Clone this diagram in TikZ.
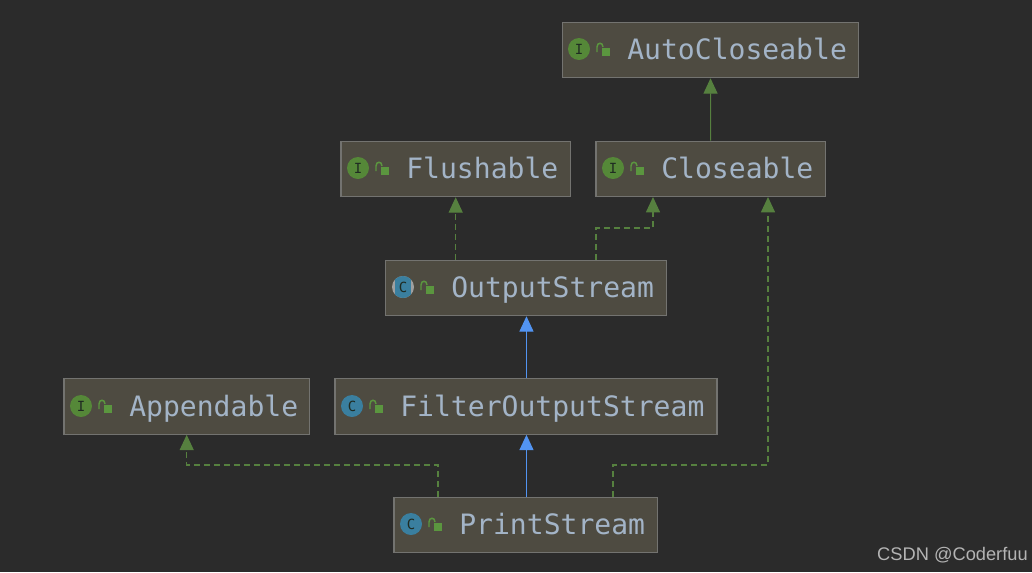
\documentclass[tikz,border=0pt]{standalone}
\usepackage{fontspec}
\setmonofont{DejaVu Sans Mono}
\newfontfamily\csdnfont{Liberation Sans}
\usetikzlibrary{arrows.meta}
\tikzset{
	classbox/.style={draw=boxline, fill=boxfill, line width=0.9pt, minimum height=41.5pt, inner sep=0pt},
	classname/.style={anchor=base west, inner sep=0pt, text=nametext, font=\ttfamily\fontsize{21.05pt}{21.05pt}\selectfont},
	icon/.style={circle, minimum size=16.5pt, inner sep=0pt, text=icontext, font=\ttfamily\fontsize{10.5pt}{10.5pt}\selectfont},
	ifaceicon/.style={icon, fill=ifacegreen},
	classicon/.style={icon, fill=classblue},
	abstracticon/.style={icon, fill=abstractgray, path picture={\fill[classblue] ([xshift=2.2pt]path picture bounding box.south west) rectangle ([xshift=-2.2pt]path picture bounding box.north east);}},
	lockicon/.pic={
		\fill[lockgreen] (-1.5,-1) rectangle (6.5,7);
		\draw[lockgreen, line width=1.1pt] (-6,3) -- (-6,-2) .. controls (-6,-7) and (0,-7) .. (0,-2);
	},
	implements/.style={draw=edgegreen, line width=0.8pt, dash pattern=on 4.5pt off 3pt, -{Triangle[length=11.5pt,width=10.5pt,fill=edgegreen]}},
	extendsiface/.style={draw=edgegreen, line width=0.8pt, -{Triangle[length=11.5pt,width=10.5pt,fill=edgegreen]}},
	extendsclass/.style={draw=edgeblue, line width=0.9pt, -{Triangle[length=11.5pt,width=10.5pt,fill=edgeblue]}},
}
\begin{document}
\begin{tikzpicture}[x=0.75pt, y=-0.75pt]
	\definecolor{canvas}{HTML}{2B2B2B}
	\definecolor{boxfill}{HTML}{4E4B41}
	\definecolor{boxline}{HTML}{737370}
	\definecolor{nametext}{HTML}{A3B4C7}
	\definecolor{icontext}{HTML}{1F2B22}
	\definecolor{ifacegreen}{HTML}{558838}
	\definecolor{classblue}{HTML}{3A7F9F}
	\definecolor{abstractgray}{HTML}{A0A0A0}
	\definecolor{lockgreen}{HTML}{5B963F}
	\definecolor{edgegreen}{HTML}{56803F}
	\definecolor{edgeblue}{HTML}{5294F2}
	\definecolor{marktext}{HTML}{B4B4B4}
	\fill[canvas] (0,0) rectangle (1032,572);
	\useasboundingbox (0,0) rectangle (1032,572);
	%% Boxes ------
	\node[classbox, minimum width=222.5pt] (AutoCloseable) at (710.5,50) {};
	\node[classbox, minimum width=172pt] (Flushable) at (455.7,169) {};
	\node[classbox, minimum width=172pt] (Closeable) at (710.7,169) {};
	\node[classbox, minimum width=210.5pt] (OutputStream) at (526,288) {};
	\node[classbox, minimum width=184pt] (Appendable) at (186.7,406.5) {};
	\node[classbox, minimum width=286.5pt] (FilterOutputStream) at (526,406.5) {};
	\node[classbox, minimum width=197.5pt] (PrintStream) at (525.7,525) {};
	%% Icons ------
	\node[ifaceicon] (AutoCloseableIcon) at (579,49) {I};
	\node[ifaceicon] (FlushableIcon) at (358,168) {I};
	\node[ifaceicon] (CloseableIcon) at (613,168) {I};
	\node[abstracticon] (OutputStreamIcon) at (403,287) {C};
	\node[ifaceicon] (AppendableIcon) at (81,406) {I};
	\node[classicon] (FilterOutputStreamIcon) at (352,406) {C};
	\node[classicon] (PrintStreamIcon) at (411,524) {C};
	\pic at (603,49) {lockicon};
	\pic at (382,168) {lockicon};
	\pic at (637,168) {lockicon};
	\pic at (427,287) {lockicon};
	\pic at (105,406) {lockicon};
	\pic at (376,406) {lockicon};
	\pic at (435,524) {lockicon};
	%% Names ------
	\node[classname] (AutoCloseableName) at (627,59) {AutoCloseable};
	\node[classname] (FlushableName) at (406,178) {Flushable};
	\node[classname] (CloseableName) at (661,178) {Closeable};
	\node[classname] (OutputStreamName) at (451,297) {OutputStream};
	\node[classname] (AppendableName) at (129,416) {Appendable};
	\node[classname] (FilterOutputStreamName) at (400,416) {FilterOutputStream};
	\node[classname] (PrintStreamName) at (459,534) {PrintStream};
	\node[anchor=base east, inner sep=0pt, text=marktext, font=\csdnfont\fontsize{13.7pt}{13.7pt}\selectfont] (Watermark) at (1028,560) {CSDN @Coderfuu};
	%% Edges ------
	\coordinate (OutLeft) at (OutputStream.north -| Flushable.south);
	\coordinate (OutRight) at (596,260);
	\coordinate (CloseLeft) at (653,197);
	\coordinate (PrintLeft) at (438,497);
	\coordinate (PrintRight) at (613,497);
	\coordinate (CloseRight) at (768,197);
	\draw[extendsiface] (Closeable.north) -- (AutoCloseable.south);
	\draw[implements] (OutLeft) -- (Flushable.south);
	\draw[implements] (OutRight) -- (596,228) -| (CloseLeft);
	\draw[extendsclass] ([xshift=0.35pt]FilterOutputStream.north) -- ([xshift=0.35pt]OutputStream.south);
	\draw[extendsclass] ([xshift=0.35pt]PrintStream.north -| FilterOutputStream.south) -- ([xshift=0.35pt]FilterOutputStream.south);
	\draw[implements] (PrintLeft) -- (438,465) -| (Appendable.south);
	\draw[implements] (PrintRight) -- (613,465) -| (CloseRight);
\end{tikzpicture}
\end{document}
